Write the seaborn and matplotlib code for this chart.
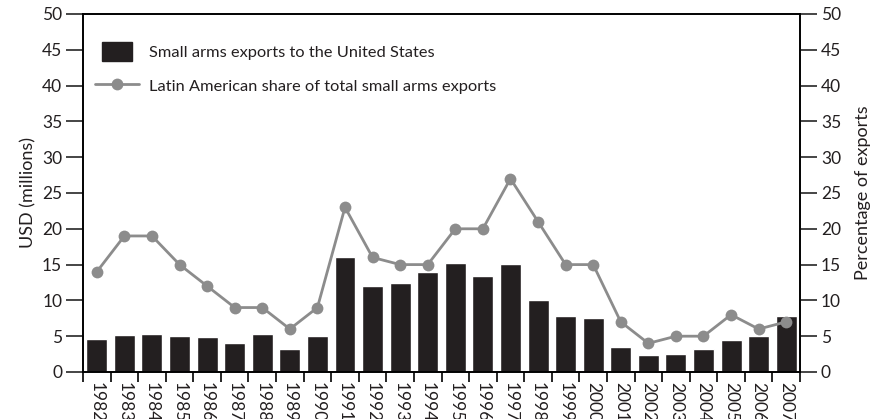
import numpy as np
import pandas as pd
import seaborn as sns
import matplotlib.pyplot as plt
from matplotlib.patches import Patch, Rectangle
from matplotlib.lines import Line2D
from matplotlib.legend_handler import HandlerPatch
from matplotlib.ticker import FixedLocator

years = [str(y) for y in range(1982, 2008)]
us_exports = [4.6, 5.2, 5.3, 5.0, 4.9, 4.05, 5.3, 3.2, 5.0, 16.1, 12.0, 12.4, 14.0,
              15.2, 13.4, 15.1, 10.1, 7.8, 7.5, 3.5, 2.4, 2.5, 3.2, 4.5, 5.0, 7.8]
latam_share = [14, 19, 19, 15, 12, 9, 9, 6, 9, 23, 16, 15, 15,
               20, 20, 27, 21, 15, 15, 7, 4, 5, 5, 8, 6, 7]

df = pd.DataFrame({"Year": years, "USD": us_exports, "Share": latam_share})
df["pos"] = np.arange(len(df))

sns.set_theme(style="white")
plt.rcParams['font.family'] = ['Lato', 'DejaVu Sans']

bar_color = "#231f20"
line_color = "#8c8c8c"
text_color = "#231f20"
fs = 12.5


class NarrowBox(HandlerPatch):
    # legend box narrower than the line handle
    def create_artists(self, legend, orig_handle, xdescent, ydescent,
                       width, height, fontsize, trans):
        w = width * 0.68
        h = height * 1.0
        x0 = -xdescent + (width - w) / 2
        y0 = -ydescent + (height - h) / 2
        r = Rectangle((x0, y0), w, h, facecolor=bar_color, edgecolor=bar_color,
                      transform=trans)
        return [r]


fig = plt.figure(figsize=(8.73, 4.19), dpi=100)
ax = fig.add_axes([0.0951, 0.1122, 0.8213, 0.8544])

sns.barplot(data=df, x="Year", y="USD", color=bar_color, width=0.76,
            saturation=1, ax=ax)
ax.set_xlim(-0.5, len(df) - 0.5)
ax.set_ylim(0, 50)
ax.set_yticks(range(0, 51, 5))
ax.set_xlabel("")
ax.set_ylabel("USD (millions)", fontsize=13, color=text_color, labelpad=4)

ax2 = ax.twinx()
sns.lineplot(data=df, x="pos", y="Share", color=line_color, linewidth=2.0,
             marker="o", markersize=8.5, markeredgewidth=0, ax=ax2)
ax2.set_ylim(0, 50)
ax2.set_yticks(range(0, 51, 5))
ax2.set_xlim(-0.5, len(df) - 0.5)
ax2.set_xlabel("")
ax2.set_ylabel("Percentage of exports", fontsize=13, color=text_color, labelpad=10)

for a in (ax, ax2):
    for s in a.spines.values():
        s.set_color("black")
        s.set_linewidth(1.2)

ax.tick_params(axis="y", which="major", direction="out", length=12, width=1.2,
               labelsize=fs, labelcolor=text_color, left=True, pad=3)
ax2.tick_params(axis="y", which="major", direction="out", length=12, width=1.2,
                labelsize=fs, labelcolor=text_color, right=True, pad=3)

# year labels under bars, tick marks between bars
ax.tick_params(axis="x", which="major", length=0, labelsize=fs,
               labelcolor=text_color, pad=7.5)
for lbl in ax.get_xticklabels():
    lbl.set_rotation(270)
    lbl.set_va("top")
    lbl.set_ha("center")
ax.xaxis.set_minor_locator(FixedLocator(np.arange(-0.5, len(df), 1.0)))
ax.tick_params(axis="x", which="minor", bottom=True, direction="out", length=7,
               width=1.2, color="black")

box = Patch(facecolor=bar_color, edgecolor=bar_color)
handles = [box,
           Line2D([0], [0], color=line_color, linewidth=2.0, marker="o",
                  markersize=8.5, markeredgewidth=0)]
labels = ["Small arms exports to the United States",
          "Latin American share of total small arms exports"]
ax2.legend(handles, labels, loc="upper left", frameon=False, fontsize=11.8,
           bbox_to_anchor=(0.0075, 0.941), handlelength=2.7, handleheight=1.4,
           labelspacing=0.95, borderaxespad=0.0, handletextpad=0.6,
           labelcolor=text_color, handler_map={box: NarrowBox()})

fig.savefig("out.png", dpi=100)
